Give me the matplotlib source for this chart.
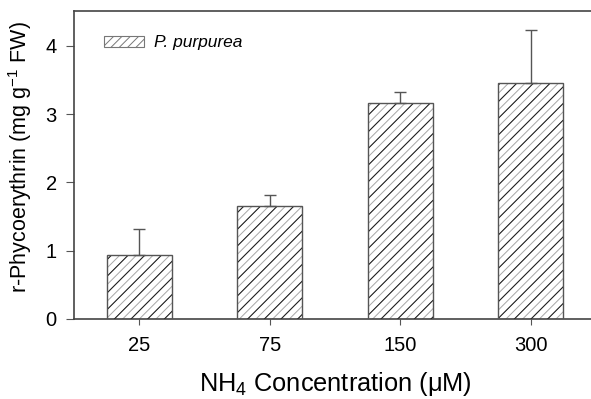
import matplotlib
matplotlib.use("Agg")
import matplotlib.pyplot as plt
from matplotlib.patches import Patch

plt.rcParams['font.family'] = ['Liberation Sans', 'DejaVu Sans']
plt.rcParams['mathtext.fontset'] = 'custom'
plt.rcParams['mathtext.rm'] = 'Liberation Sans'
plt.rcParams['mathtext.it'] = 'Liberation Sans:italic'
plt.rcParams['hatch.linewidth'] = 0.7

# Data
concentrations = ['25', '75', '150', '300']
phycoerythrin = [0.93, 1.66, 3.16, 3.46]
errors = [0.39, 0.15, 0.16, 0.77]
yticks = [0, 1, 2, 3, 4]
legend_label = 'P. purpurea'

W, H = 591, 399
fig = plt.figure(figsize=(W / 100, H / 100), dpi=100)
left_px, right_px, bottom_px, top_px = 74, 605, 319, 11
ax_w, ax_h = right_px - left_px, bottom_px - top_px
ax = fig.add_axes([left_px / W, 1 - bottom_px / H, ax_w / W, ax_h / H])

x = list(range(len(concentrations)))
width = 0.495
# gray fine hatch layer
ax.bar(x, phycoerythrin, width, color='white', edgecolor='#a8a8a8', hatch='////', linewidth=0, zorder=2)
# black coarse hatch layer
ax.bar(x, phycoerythrin, width, color='none', edgecolor='#1a1a1a', hatch='//', linewidth=0, zorder=3)
# outline
ax.bar(x, phycoerythrin, width, color='none', edgecolor='#555555', linewidth=1.0, zorder=4)
ax.errorbar(x, phycoerythrin, yerr=[[0] * len(errors), errors], fmt='none',
            ecolor='#555555', elinewidth=1.0, capsize=4.5, capthick=1.0, zorder=5)

spacing_px = 130.5
ax.set_xlim(-0.5, -0.5 + ax_w / spacing_px)
ax.set_ylim(0, 4.51)
ax.set_xticks(x)
ax.set_xticklabels(concentrations)
ax.set_yticks(yticks)
ax.set_yticklabels([str(t) for t in yticks])

for s in ['left', 'bottom', 'top']:
    ax.spines[s].set_color('#444444')
    ax.spines[s].set_linewidth(1.2)
ax.spines['right'].set_visible(False)

ax.tick_params(axis='x', direction='out', length=4, width=0.8, color='#555555',
               labelsize=14.5, pad=8)
ax.tick_params(axis='y', direction='out', length=6, width=0.8, color='#555555',
               labelsize=14.5, pad=6.5)

ax.set_xlabel('NH$_4$ Concentration (\u03bcM)', fontsize=18.3)
ax.xaxis.set_label_coords((335 - left_px) / ax_w, (bottom_px - 370) / ax_h)
ax.set_ylabel('r-Phycoerythrin (mg g$^{-1}$ FW)', fontsize=15.5)
ax.yaxis.set_label_coords((34 - left_px) / ax_w, (bottom_px - 157.5) / ax_h)

handle = Patch(facecolor='white', edgecolor='#777777', hatch='////', linewidth=0.8)
leg = ax.legend([handle], [legend_label], loc='center left',
                bbox_to_anchor=(104 / W, 1 - 43 / H), bbox_transform=fig.transFigure,
                frameon=False, borderpad=0, borderaxespad=0,
                handlelength=2.3, handleheight=0.55, handletextpad=0.6,
                prop={'style': 'italic', 'size': 12.5})

fig.savefig('out.png', dpi=100)
